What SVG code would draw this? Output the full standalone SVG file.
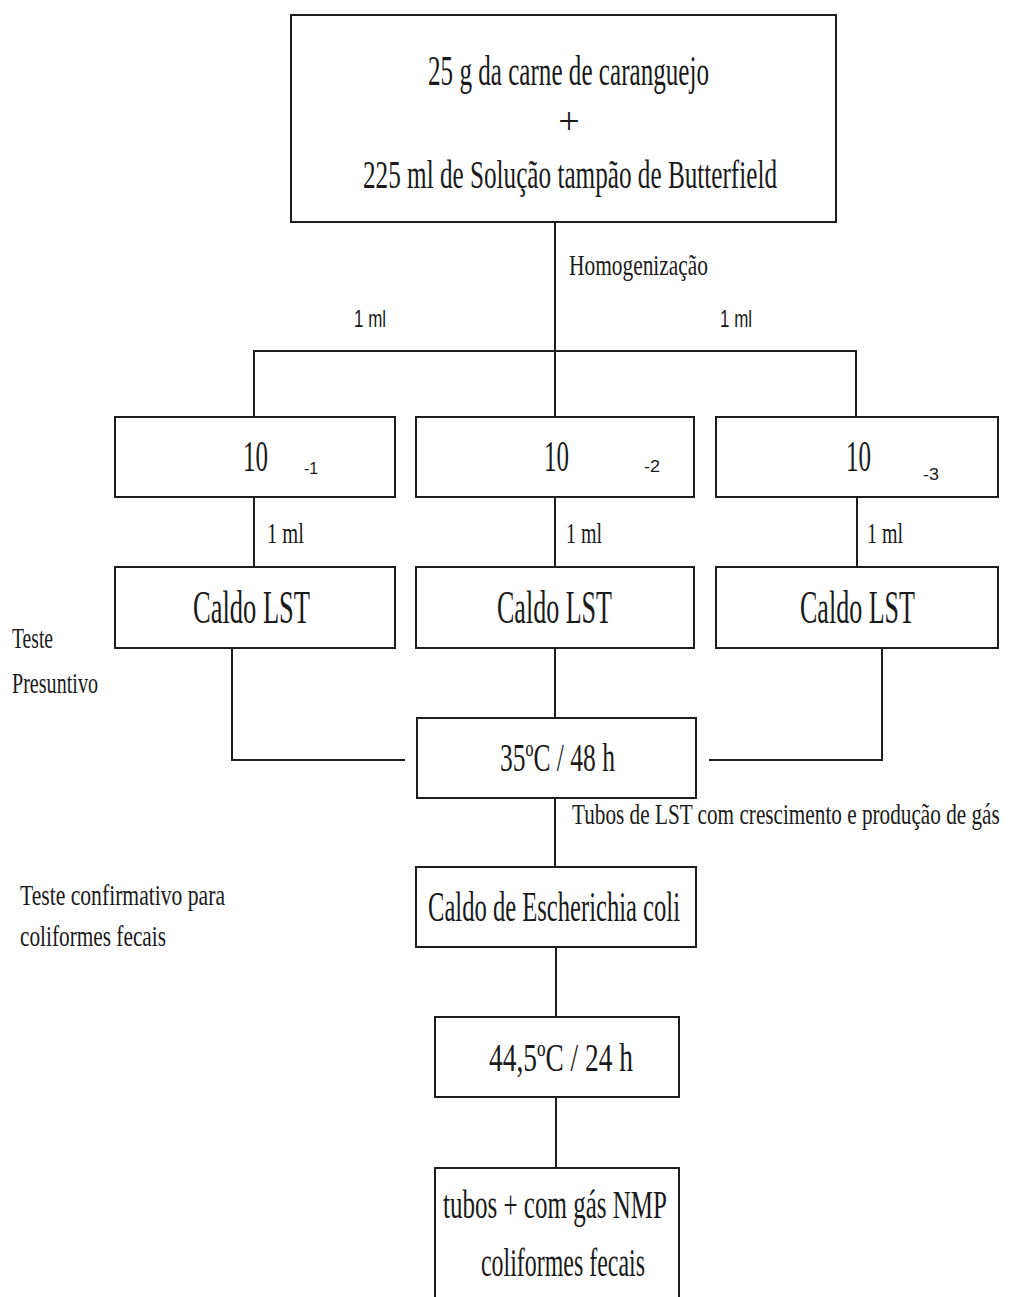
<svg xmlns="http://www.w3.org/2000/svg" width="1025" height="1297" viewBox="0 0 1025 1297">
  <style>
    .box { fill: #ffffff; stroke: #1e1e1e; stroke-width: 2; }
    .wire { fill: none; stroke: #1e1e1e; stroke-width: 2; }
    .serif { font-family: "Liberation Serif", "Times New Roman", serif; fill: #1a1a1a; }
    .sans { font-family: "Liberation Sans", Arial, sans-serif; fill: #1a1a1a; }
  </style>
  <rect width="1025" height="1297" fill="#ffffff"/>

  <!-- connectors -->
  <g id="connectors" class="wire">
    <line x1="555" y1="222" x2="555" y2="417"/>
    <polyline points="254,417 254,351 856,351 856,417"/>
    <line x1="254" y1="497" x2="254" y2="567"/>
    <line x1="555" y1="497" x2="555" y2="567"/>
    <line x1="857" y1="497" x2="857" y2="567"/>
    <polyline points="232,648 232,760 405,760"/>
    <line x1="555" y1="648" x2="555" y2="718"/>
    <polyline points="882,648 882,760 709,760"/>
    <line x1="555" y1="798" x2="555" y2="867"/>
    <line x1="556" y1="947" x2="556" y2="1017"/>
    <line x1="556" y1="1097" x2="556" y2="1168"/>
  </g>

  <!-- connector labels -->
  <g id="labels">
    <text class="serif" x="569" y="275" font-size="30" textLength="139" lengthAdjust="spacingAndGlyphs">Homogenização</text>
    <text class="sans" x="354" y="327" font-size="24" textLength="32" lengthAdjust="spacingAndGlyphs">1 ml</text>
    <text class="sans" x="720" y="327" font-size="24" textLength="32" lengthAdjust="spacingAndGlyphs">1 ml</text>
    <text class="serif" x="267" y="543" font-size="30" textLength="37" lengthAdjust="spacingAndGlyphs">1 ml</text>
    <text class="serif" x="566" y="543" font-size="30" textLength="36" lengthAdjust="spacingAndGlyphs">1 ml</text>
    <text class="serif" x="867" y="543" font-size="30" textLength="36" lengthAdjust="spacingAndGlyphs">1 ml</text>
    <text class="serif" transform="translate(572 824) scale(0.73 1)" x="0" y="0" font-size="29" textLength="586" lengthAdjust="spacingAndGlyphs">Tubos de LST com crescimento e produção de gás</text>
  </g>

  <!-- side notes -->
  <g id="note-presuntivo">
    <text class="serif" x="12" y="648" font-size="30" textLength="41" lengthAdjust="spacingAndGlyphs">Teste</text>
    <text class="serif" x="12" y="693" font-size="30" textLength="86" lengthAdjust="spacingAndGlyphs">Presuntivo</text>
  </g>
  <g id="note-confirmativo">
    <text class="serif" x="20" y="905" font-size="30" textLength="205" lengthAdjust="spacingAndGlyphs">Teste confirmativo para</text>
    <text class="serif" x="20" y="946" font-size="30" textLength="146" lengthAdjust="spacingAndGlyphs">coliformes fecais</text>
  </g>

  <!-- sample -->
  <g id="amostra">
    <rect class="box" x="291" y="15" width="545" height="207"/>
    <text class="serif" x="428" y="85" font-size="43" textLength="281" lengthAdjust="spacingAndGlyphs">25 g da carne de caranguejo</text>
    <text class="serif" x="569" y="134" font-size="38" text-anchor="middle">+</text>
    <text class="serif" x="363" y="188" font-size="40" textLength="414" lengthAdjust="spacingAndGlyphs">225 ml de Solução tampão de Butterfield</text>
  </g>

  <!-- dilutions -->
  <g id="diluicao-1">
    <rect class="box" x="115" y="417" width="280" height="80"/>
    <text class="serif" x="243" y="471" font-size="44" textLength="25" lengthAdjust="spacingAndGlyphs">10</text>
    <text class="sans" x="304" y="474" font-size="16" textLength="14" lengthAdjust="spacingAndGlyphs">-1</text>
  </g>
  <g id="diluicao-2">
    <rect class="box" x="416" y="417" width="278" height="80"/>
    <text class="serif" x="544" y="471" font-size="44" textLength="25" lengthAdjust="spacingAndGlyphs">10</text>
    <text class="sans" x="644" y="472" font-size="16" textLength="16" lengthAdjust="spacingAndGlyphs">-2</text>
  </g>
  <g id="diluicao-3">
    <rect class="box" x="716" y="417" width="282" height="80"/>
    <text class="serif" x="846" y="471" font-size="44" textLength="25" lengthAdjust="spacingAndGlyphs">10</text>
    <text class="sans" x="923" y="480" font-size="16" textLength="16" lengthAdjust="spacingAndGlyphs">-3</text>
  </g>

  <!-- LST broth -->
  <g id="lst-1">
    <rect class="box" x="115" y="567" width="280" height="81"/>
    <text class="serif" x="193" y="623" font-size="46" textLength="117" lengthAdjust="spacingAndGlyphs">Caldo LST</text>
  </g>
  <g id="lst-2">
    <rect class="box" x="416" y="567" width="278" height="81"/>
    <text class="serif" x="497" y="623" font-size="46" textLength="115" lengthAdjust="spacingAndGlyphs">Caldo LST</text>
  </g>
  <g id="lst-3">
    <rect class="box" x="716" y="567" width="282" height="81"/>
    <text class="serif" x="800" y="623" font-size="46" textLength="115" lengthAdjust="spacingAndGlyphs">Caldo LST</text>
  </g>

  <!-- incubation 35 C -->
  <g id="incubacao-35">
    <rect class="box" x="417" y="718" width="279" height="80"/>
    <text class="serif" x="500" y="771" font-size="40" textLength="115" lengthAdjust="spacingAndGlyphs">35ºC / 48 h</text>
  </g>

  <!-- EC broth -->
  <g id="caldo-ec">
    <rect class="box" x="416" y="867" width="280" height="80"/>
    <text class="serif" x="428" y="921" font-size="43" textLength="252" lengthAdjust="spacingAndGlyphs">Caldo de Escherichia coli</text>
  </g>

  <!-- incubation 44.5 C -->
  <g id="incubacao-44">
    <rect class="box" x="435" y="1017" width="244" height="80"/>
    <text class="serif" x="489" y="1071" font-size="40" textLength="144" lengthAdjust="spacingAndGlyphs">44,5ºC / 24 h</text>
  </g>

  <!-- result -->
  <g id="resultado">
    <rect class="box" x="435" y="1168" width="244" height="140"/>
    <text class="serif" x="443" y="1218" font-size="40" textLength="224" lengthAdjust="spacingAndGlyphs">tubos + com gás NMP</text>
    <text class="serif" x="481" y="1276" font-size="40" textLength="164" lengthAdjust="spacingAndGlyphs">coliformes fecais</text>
  </g>
</svg>
